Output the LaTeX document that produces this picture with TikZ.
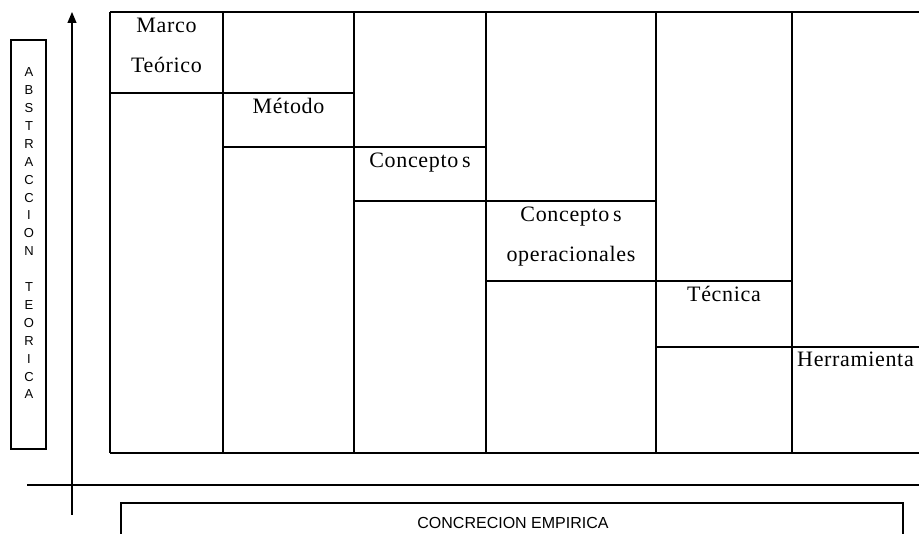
\documentclass[tikz,border=0pt]{standalone}
\usepackage{fontspec}
\setmainfont{Liberation Serif}
\setsansfont{Liberation Sans}
\usetikzlibrary{arrows.meta, positioning}

\tikzset{
  grid line/.style={line width=1.1pt},
  cell label/.style={anchor=base, align=center, inner sep=0pt,
    font=\fontsize{22}{40}\selectfont\addfontfeatures{LetterSpace=3}},
  side label/.style={anchor=base, align=center, inner sep=0pt,
    font=\sffamily\fontsize{13}{17.9}\selectfont},
}

\begin{document}
\begin{tikzpicture}[x=1pt,y=-1pt]
\clip (0,0) rectangle (919,534);

% Draw columns
\foreach \x in {110,223,354,486,656,792} {
    \draw[grid line] (\x,12) -- (\x,453);
}
\draw[grid line] (110,12) -- (919,12);
\draw[grid line] (110,453) -- (919,453);

% Draw steps
\foreach \y/\a/\b in {93/110/354, 147/223/486, 201/354/656, 281/486/792, 347/656/919} {
    \draw[grid line] (\a,\y) -- (\b,\y);
}

% Labels (base = last line)
\node[cell label] (marco) at (166.5,73) {Marco\\Teórico};
\node[cell label] (metodo) at (288.5,114) {Método};
\node[cell label] (conceptos) at (420,168) {Concepto\,s};
\node[cell label] (operacionales) at (571,262) {Concepto\,s\\operacionales};
\node[cell label] (tecnica) at (724,302) {Técnica};
\node[cell label] (herramienta) at (855.5,367) {Herramienta};

% Draw axes
\coordinate (pie) at (72,515);
\coordinate (cima) at (72,12);
\coordinate (izq) at (27,485);
\coordinate (der) at (919,485);
\draw[grid line,-{Triangle[length=11pt,width=9pt]}] (pie) -- (cima);
\draw[grid line] (izq) -- (der);

% Side boxes
\draw[grid line] (11,40) rectangle (46,449);
\node[side label] (abstraccion) at (29,399)
    {A\\B\\S\\T\\R\\A\\C\\C\\I\\O\\N\\ \\T\\E\\O\\R\\I\\C\\A};
\draw[grid line] (121,503) rectangle (903,545);
\node[font=\sffamily\fontsize{16}{19}\selectfont] (concrecion) at (513,523) {CONCRECION EMPIRICA};
\end{tikzpicture}
\end{document}
